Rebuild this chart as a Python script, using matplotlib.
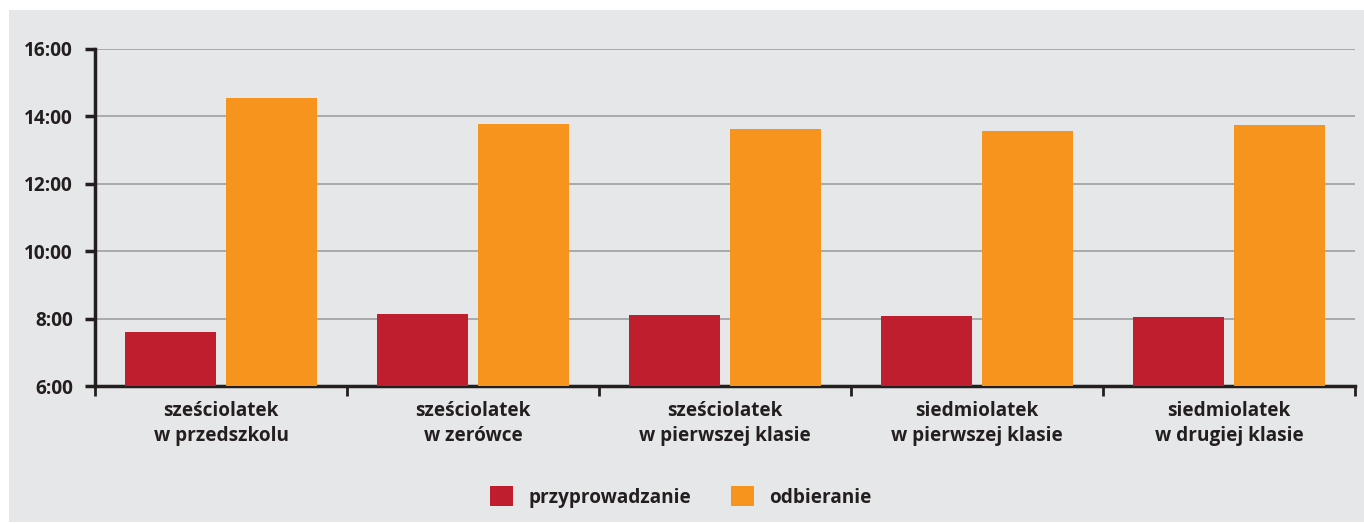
import numpy as np
from matplotlib import pyplot as plt
from matplotlib.patches import Rectangle, Patch

#
# Data (hours as decimals)
#
categories = ['sześciolatek\nw przedszkolu', 'sześciolatek\nw zerówce',
              'sześciolatek\nw pierwszej klasie', 'siedmiolatek\nw pierwszej klasie',
              'siedmiolatek\nw drugiej klasie']
przyprowadzanie = [7.60, 8.14, 8.11, 8.08, 8.05]
odbieranie = [14.55, 13.77, 13.63, 13.57, 13.74]
series_names = ['przyprowadzanie', 'odbieranie']
yticks = [6, 8, 10, 12, 14, 16]
ytick_labels = ['6:00', '8:00', '10:00', '12:00', '14:00', '16:00']

red = '#be1e2d'
orange = '#f7941d'
bg = '#e6e7e8'
dark = '#231f20'

plt.rcParams['font.family'] = ['Open Sans', 'DejaVu Sans']
plt.rcParams['font.weight'] = 'bold'
fs = 13.7

fig = plt.figure(figsize=(13.64, 5.24), dpi=100)
fig.patch.set_facecolor('white')
# gray panel behind everything
fig.patches.append(Rectangle((9/1364, 2/524), 1 - 9/1364, 1 - 12/524,
                             transform=fig.transFigure, facecolor=bg,
                             edgecolor='none', zorder=-10))

ax = fig.add_axes([95/1364, 1 - 386/524, (1355 - 95)/1364, (386 - 49)/524])
ax.set_facecolor('none')

x = np.arange(len(categories))
ax.bar(x - 0.2, przyprowadzanie, width=0.36, color=red, zorder=3)
ax.bar(x + 0.2, odbieranie, width=0.36, color=orange, zorder=3)

ax.set_xlim(-0.5, len(categories) - 0.5)
ax.set_ylim(6, 16)
ax.set_yticks(yticks)
ax.set_yticklabels(ytick_labels, fontsize=fs, color=dark, fontweight='bold')
ax.yaxis.grid(True, color='#9d9fa2', linewidth=1.2, zorder=0)
ax.set_axisbelow(True)

ax.set_xticks(x)
ax.set_xticklabels(categories, fontsize=fs, color=dark, fontweight='bold',
                   linespacing=1.3)
ax.set_xticks(np.arange(-0.5, len(categories)), minor=True)
ax.tick_params(axis='x', which='major', length=0, pad=11)
ax.tick_params(axis='x', which='minor', length=7, width=2, color=dark, direction='out')
ax.tick_params(axis='y', length=7, width=2.5, color=dark, pad=9)

for s in ['top', 'right']:
    ax.spines[s].set_visible(False)
for s in ['left', 'bottom']:
    ax.spines[s].set_color(dark)
    ax.spines[s].set_linewidth(2.5)

handles = [Patch(facecolor=red), Patch(facecolor=orange)]
fig.legend(handles, series_names, loc='center', bbox_to_anchor=(0.499, 1 - 497/524),
           ncol=2, frameon=False, prop={'size': fs, 'weight': 'bold'},
           handlelength=1.2, handleheight=1.2, handletextpad=0.8,
           columnspacing=2.1, labelcolor=dark)

fig.savefig('out.png', dpi=100, facecolor=fig.get_facecolor())
